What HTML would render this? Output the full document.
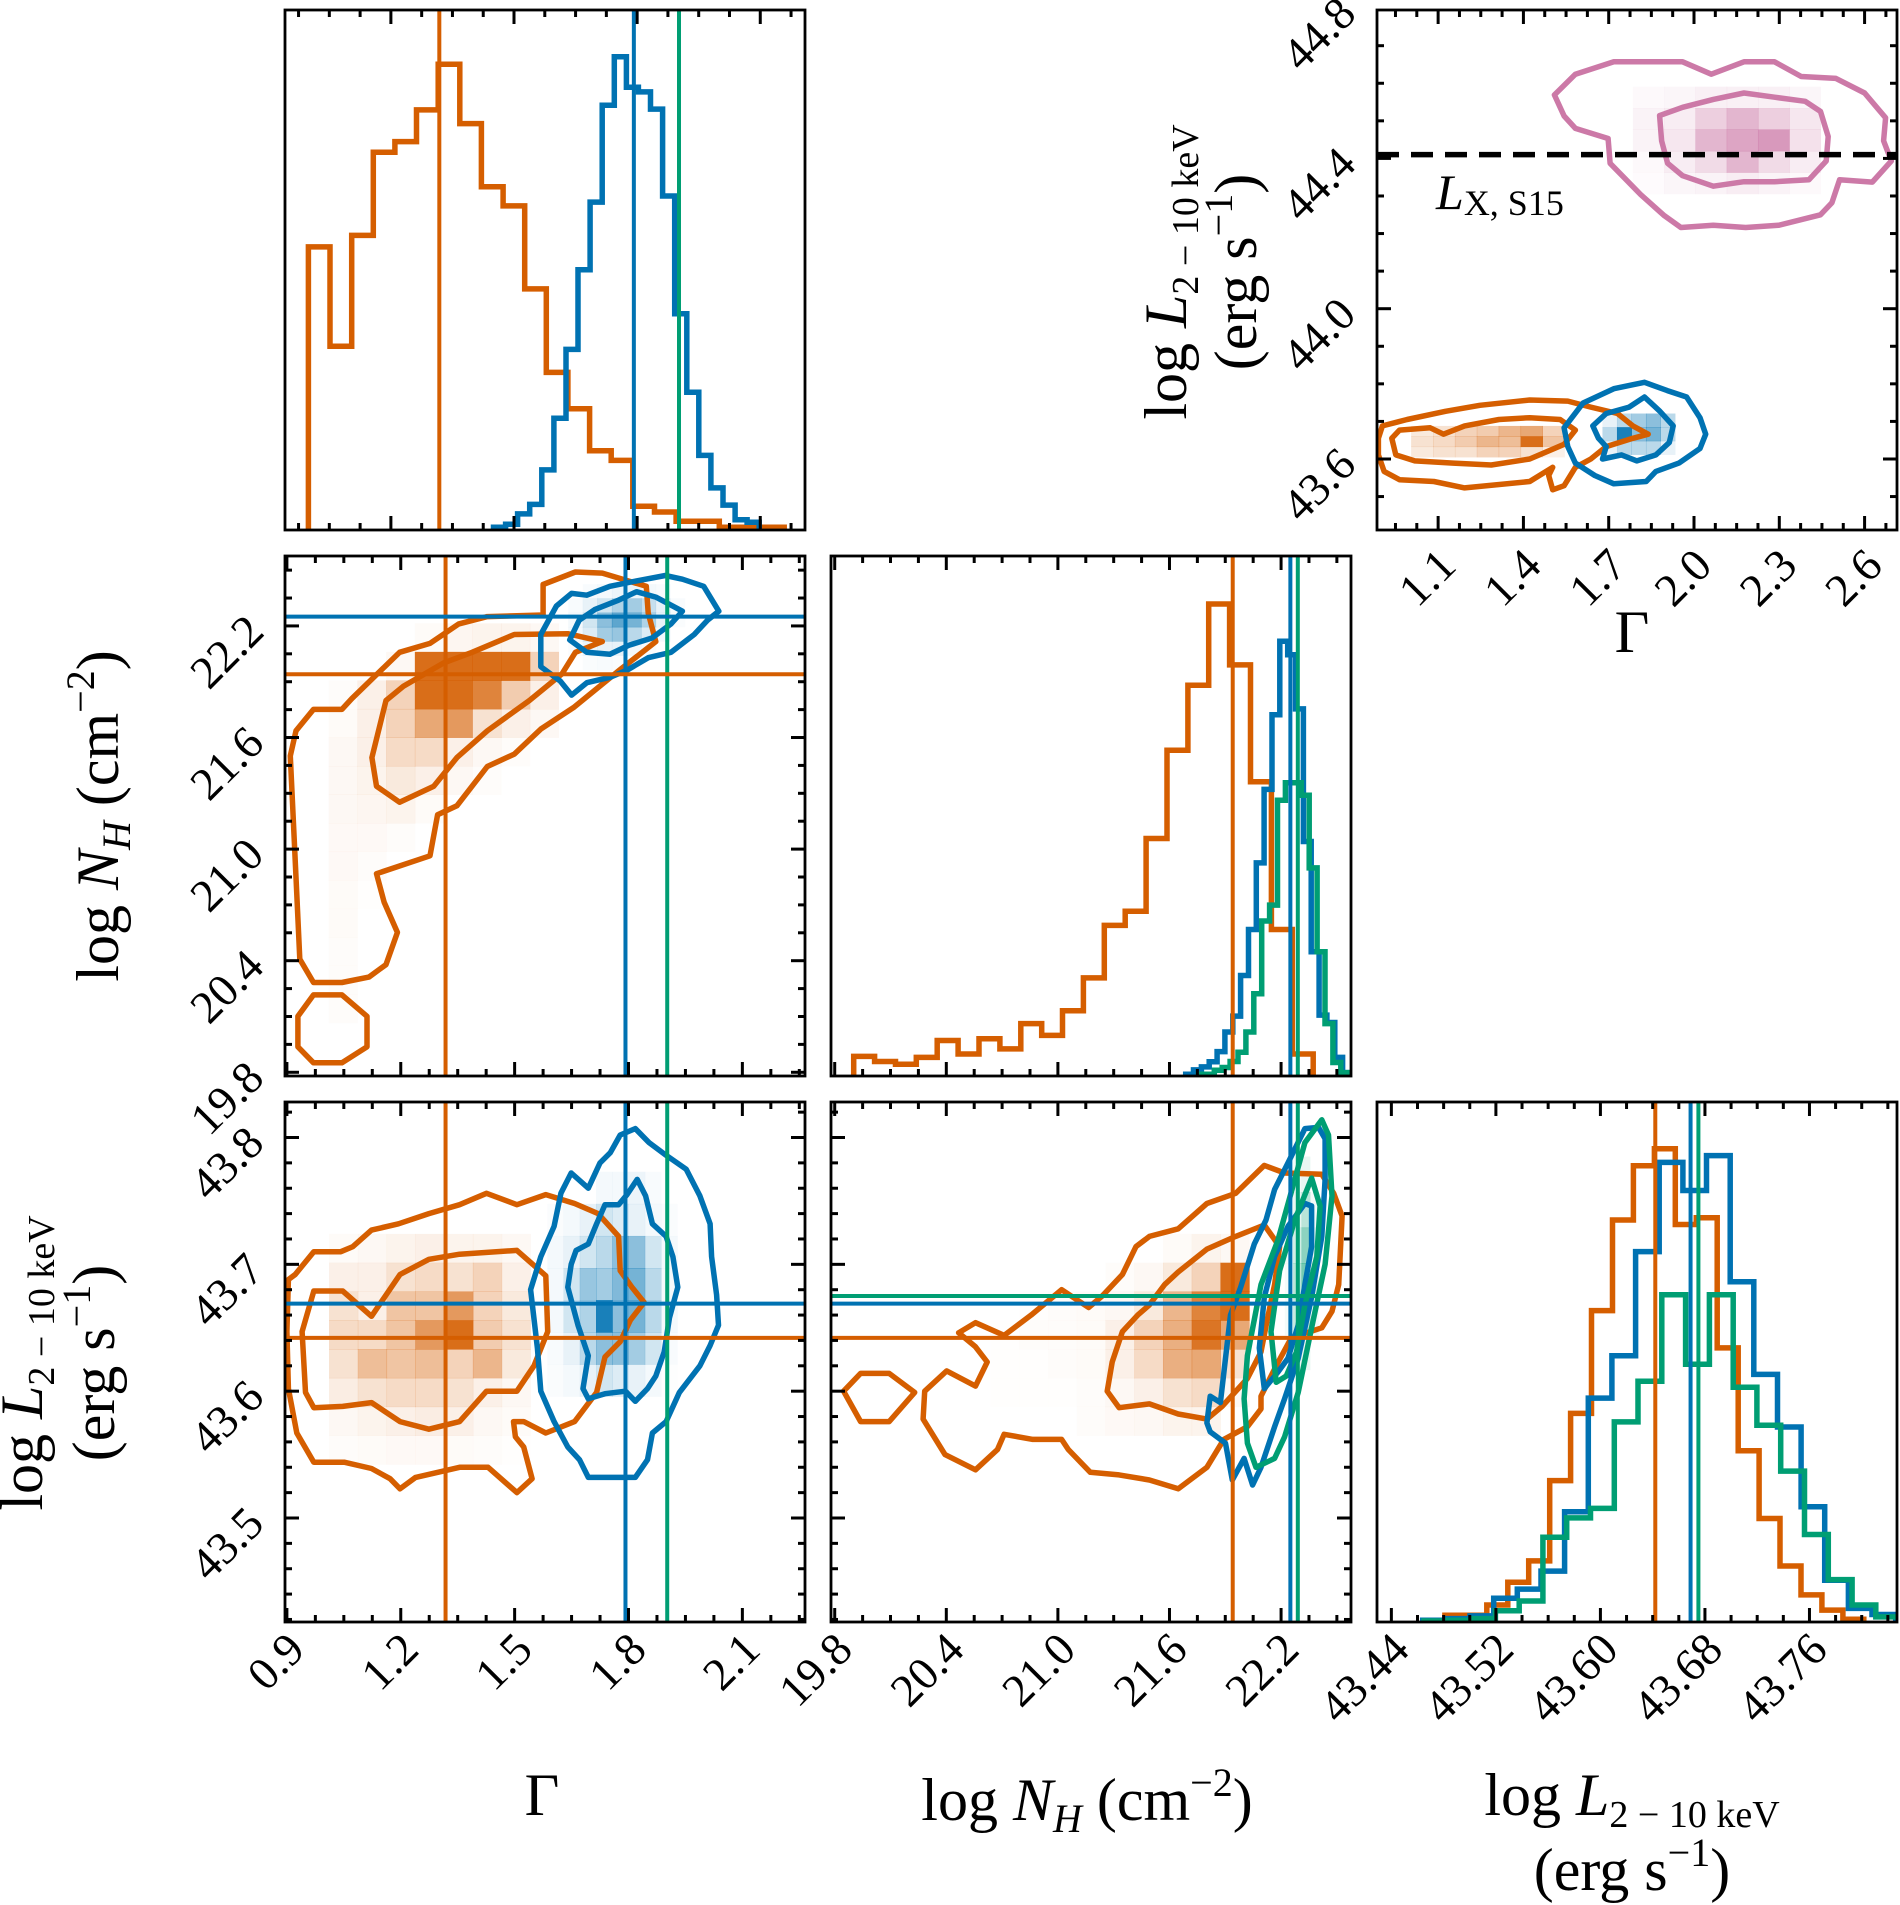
<!DOCTYPE html>
<html>
<head>
<meta charset="utf-8">
<style>
  html, body { margin:0; padding:0; background:#fff; }
  svg { display:block; font-family:"Liberation Serif", "DejaVu Serif", serif; }
  .tl { font-size:46px; fill:#000; }
  .title { font-size:60px; fill:#000; }
</style>
</head>
<body>
<svg id="fig" width="1900" height="1905" viewBox="0 0 1900 1905" xmlns="http://www.w3.org/2000/svg">
  <rect x="0" y="0" width="1900" height="1905" fill="#fff"/>
  <defs id="defs"></defs>
  <g id="marks"></g>
  <g id="axes"></g>

  <text class="title" transform="translate(118,816) rotate(-90)" text-anchor="middle">log <tspan font-style="italic">N</tspan><tspan font-style="italic" font-size="40" dy="12">H</tspan><tspan dy="-12"> (cm</tspan><tspan font-size="40" dy="-24">−2</tspan><tspan dy="24">)</tspan></text>

  <text class="title" transform="translate(42,1363) rotate(-90)" text-anchor="middle">log <tspan font-style="italic">L</tspan><tspan font-size="38" dy="12">2 − 10 keV</tspan></text>
  <text class="title" transform="translate(114,1363) rotate(-90)" text-anchor="middle">(erg s<tspan font-size="40" dy="-24">−1</tspan><tspan dy="24">)</tspan></text>

  <text class="title" transform="translate(1186,272) rotate(-90)" text-anchor="middle">log <tspan font-style="italic">L</tspan><tspan font-size="38" dy="12">2 − 10 keV</tspan></text>
  <text class="title" transform="translate(1256,272) rotate(-90)" text-anchor="middle">(erg s<tspan font-size="40" dy="-24">−1</tspan><tspan dy="24">)</tspan></text>

  <text class="title" x="542" y="1815" text-anchor="middle">Γ</text>
  <text class="title" x="1087" y="1820" text-anchor="middle">log <tspan font-style="italic">N</tspan><tspan font-style="italic" font-size="40" dy="12">H</tspan><tspan dy="-12"> (cm</tspan><tspan font-size="40" dy="-24">−2</tspan><tspan dy="24">)</tspan></text>
  <text class="title" x="1632" y="1815" text-anchor="middle">log <tspan font-style="italic">L</tspan><tspan font-size="38" dy="12">2 − 10 keV</tspan></text>
  <text class="title" x="1632" y="1890" text-anchor="middle">(erg s<tspan font-size="40" dy="-24">−1</tspan><tspan dy="24">)</tspan></text>
  <text class="title" x="1632" y="652" text-anchor="middle">Γ</text>

  <text x="1436" y="209" font-size="50"><tspan font-style="italic">L</tspan><tspan font-size="36" dy="6">X, S15</tspan></text>

<script>
const S = "http://www.w3.org/2000/svg";
const ORANGE = "#d55e00", BLUE = "#0072b2", GREEN = "#009e73", PINK = "#cc79a7";

const gammaTicks = [0.9, 1.2, 1.5, 1.8, 2.1];
const nhTicks = [19.8, 20.4, 21.0, 21.6, 22.2];
const lumTicksY = [43.5, 43.6, 43.7, 43.8];
const lumTicksX = [43.44, 43.52, 43.60, 43.68, 43.76];
const trGammaTicks = [1.1, 1.4, 1.7, 2.0, 2.3, 2.6];
const trLumTicks = [43.6, 44.0, 44.4, 44.8];

const gammaMedians = [1.318, 1.792, 1.902];
const nhMedians = [21.94, 22.25, 22.29];
const lumMedians = [43.642, 43.669, 43.675];
const lxS15 = [44.41];

const gammaHistOrange = [740,480,770,987,1015,1098,1217,1062,897,847,630,412,317,207,182,62,47,23,23,7,7,7];
const gammaHistOrangeBins = [0.999, 0.0527];
const gammaHistBlue = [7,15,42,67,157,292,472,680,857,1110,1237,1157,1145,1100,873,565,360,195,110,65,27,20];
const gammaHistBlueBins = [1.450, 0.02943];

const nhHistOrange = [58,43,35,55,105,65,110,80,155,120,193,290,445,487,702,963,1155,1395,1215,870,433,65];
const nhHistOrangeBins = [19.902, 0.1123];
const nhHistBlue = [5,18,27,42,72,130,177,297,433,630,847,1068,1285,1245,1085,693,367,180,158,55,10];
const nhHistBlueBins = [21.687, 0.0422];
const nhHistGreen = [5,5,17,25,43,70,130,243,458,505,815,867,867,830,615,367,155,40,10];
const nhHistGreenBins = [21.756, 0.0425];

const lumHistOrange = [20,20,50,117,180,417,615,918,1185,1345,1395,1172,1192,808,505,305,165,80,35,8];
const lumHistOrangeBins = [43.481, 0.01603];
const lumHistBlue = [5,10,18,70,97,150,325,660,785,1092,1355,1272,1375,1003,730,575,340,123,40,22];
const lumHistBlueBins = [43.464, 0.0181];
const lumHistGreen = [3,5,10,33,62,250,307,335,590,710,965,760,965,692,580,445,258,125,50,15];
const lumHistGreenBins = [43.465, 0.0182];

const heatGNOrange = [
 [0,0,0,0.03,0.06,0.08,0.08,0.05],
 [0,0,0.05,1.0,1.0,1.0,1.0,0.3],
 [0.02,0.1,0.3,1.0,1.0,0.85,0.35,0.1],
 [0.03,0.1,0.3,0.6,0.7,0.2,0.1,0.05],
 [0.05,0.1,0.25,0.25,0.1,0.05,0.02,0],
 [0.05,0.08,0.15,0.1,0.05,0.02,0,0],
 [0.05,0.06,0.08,0.03,0,0,0,0],
 [0.04,0.04,0.02,0,0,0,0,0],
 [0.04,0.02,0,0,0,0,0,0],
 [0.03,0.01,0,0,0,0,0,0],
 [0.03,0,0,0,0,0,0,0],
 [0.02,0,0,0,0,0,0,0],
 [0.02,0,0,0,0,0,0,0],
 [0.02,0,0,0,0,0,0,0]];
const heatGNOrangeGrid = [1.010, 0.0757, 22.214, 0.1534];
const heatGNBlue = [
 [0,0.03,0.05,0.08,0.08,0.05,0.03,0],
 [0.03,0.1,0.2,0.35,0.4,0.25,0.1,0.03],
 [0.05,0.2,0.5,0.7,0.6,0.35,0.1,0.02],
 [0.05,0.15,0.4,0.45,0.3,0.15,0.05,0],
 [0.02,0.08,0.1,0.1,0.05,0.02,0,0],
 [0,0.02,0.03,0.02,0,0,0,0]];
const heatGNBlueGrid = [1.641, 0.0384, 22.425, 0.0767];

const heatGLOrange = [
 [0.03,0.05,0.08,0.1,0.08,0.08,0.05],
 [0.1,0.1,0.2,0.25,0.2,0.3,0.1],
 [0.2,0.1,0.4,0.4,0.7,0.3,0.15],
 [0.25,0.25,0.4,0.7,1.0,0.35,0.2],
 [0.2,0.45,0.4,0.45,0.3,0.5,0.15],
 [0.12,0.2,0.25,0.25,0.2,0.1,0.05],
 [0.05,0.08,0.1,0.12,0.1,0.05,0.03],
 [0.02,0.03,0.04,0.04,0.03,0.02,0.01]];
const heatGLOrangeGrid = [1.011, 0.0758, 43.724, 0.0227];
const heatGLBlue = [
 [0,0,0,0.05,0.05,0.08,0.03,0],
 [0.02,0.05,0.1,0.2,0.15,0.1,0.05,0.02],
 [0.05,0.1,0.2,0.3,0.5,0.5,0.2,0.05],
 [0.05,0.2,0.45,0.4,0.55,0.6,0.3,0.05],
 [0.05,0.2,0.35,1.0,0.5,0.6,0.3,0.05],
 [0.03,0.1,0.3,0.5,0.5,0.4,0.2,0.03],
 [0.02,0.05,0.1,0.2,0.15,0.1,0.05,0.01]];
const heatGLBlueGrid = [1.586, 0.0428, 43.773, 0.0253];

const heatNLOrange = [
 [0,0,0,0,0,0,0.03,0.08,0.05],
 [0,0,0,0,0.02,0.05,0.15,0.3,1.0],
 [0,0.01,0.02,0.03,0.05,0.15,0.5,0.85,1.0],
 [0.01,0.02,0.02,0.03,0.1,0.3,0.55,0.95,0.6],
 [0.01,0.01,0.02,0.03,0.1,0.25,0.55,0.6,0.2],
 [0.01,0.01,0.01,0.02,0.05,0.1,0.2,0.25,0.05],
 [0,0,0,0.02,0.04,0.05,0.08,0.08,0]];
const heatNLOrangeGrid = [20.638, 0.1545, 43.724, 0.0227];
const heatNLGreen = [
 [0,0.05,0.1,0],
 [0,0.1,0.3,0.05],
 [0.05,0.2,0.5,0.1],
 [0.05,0.3,0.6,0.1],
 [0.05,0.25,0.3,0.05],
 [0.02,0.1,0.1,0]];
const heatNLGreenGrid = [22.22, 0.045, 43.785, 0.028];

const heatTRPink = [
 [0.05,0.08,0.12,0.12,0.12,0.08],
 [0.1,0.15,0.4,0.6,0.4,0.2],
 [0.1,0.2,0.6,0.75,0.85,0.25],
 [0.05,0.15,0.3,0.6,0.3,0.15],
 [0.03,0.08,0.1,0.15,0.1,0.05]];
const heatTRPinkGrid = [1.785, 0.110, 44.591, 0.057];
const heatTROrange = [
 [0.15,0.2,0.3,0.35,0.5,0.6,0.3],
 [0.2,0.25,0.35,0.5,0.45,1.0,0.4],
 [0.15,0.2,0.2,0.3,0.3,0.2,0.1]];
const heatTROrangeGrid = [1.005, 0.077, 43.688, 0.0275];
const heatTRBlue = [
 [0.1,0.3,0.4,0.5,0.3],
 [0.3,1.0,0.5,0.6,0.3],
 [0.1,0.3,0.3,0.3,0.1]];
const heatTRBlueGrid = [1.678, 0.051, 43.721, 0.0363];

const cGNOrangeOuter = [[0.970,20.283],[0.934,20.408],[0.924,20.849],[0.909,21.501],[0.924,21.636],[0.970,21.751],[1.045,21.751],[1.071,21.809],[1.197,22.058],[1.277,22.106],[1.353,22.211],[1.428,22.250],[1.575,22.259],[1.575,22.423],[1.660,22.490],[1.731,22.484],[1.847,22.413],[1.852,22.269],[1.872,22.116],[1.776,21.962],[1.655,21.761],[1.569,21.645],[1.499,21.511],[1.428,21.444],[1.348,21.233],[1.297,21.185],[1.277,20.964],[1.136,20.868],[1.156,20.715],[1.191,20.552],[1.161,20.379],[1.116,20.312],[1.045,20.283]];
const cGNOrangeIsland = [[0.970,20.216],[1.045,20.216],[1.111,20.101],[1.111,19.937],[1.045,19.851],[0.970,19.851],[0.929,19.937],[0.929,20.101]];
const cGNOrangeInner = [[1.197,21.252],[1.136,21.338],[1.124,21.492],[1.161,21.799],[1.207,21.876],[1.312,22.000],[1.388,22.058],[1.499,22.154],[1.640,22.158],[1.731,22.116],[1.660,22.058],[1.625,21.943],[1.539,21.799],[1.428,21.636],[1.348,21.492],[1.287,21.338]];
const cGNBlueOuter = [[1.569,22.154],[1.610,22.307],[1.650,22.375],[1.690,22.365],[1.751,22.413],[1.821,22.442],[1.897,22.471],[1.942,22.451],[1.998,22.413],[2.038,22.279],[2.008,22.231],[1.973,22.154],[1.912,22.058],[1.852,22.029],[1.796,21.962],[1.751,21.924],[1.690,21.895],[1.650,21.828],[1.620,21.904],[1.569,21.981]];
const cGNBlueInner = [[1.645,22.125],[1.670,22.231],[1.711,22.288],[1.771,22.336],[1.821,22.384],[1.872,22.355],[1.942,22.279],[1.912,22.211],[1.862,22.135],[1.801,22.096],[1.751,22.048],[1.690,22.058]];

const cGLOrangeOuter = [[0.904,43.688],[0.922,43.692],[0.971,43.710],[1.042,43.710],[1.074,43.714],[1.123,43.727],[1.194,43.732],[1.274,43.740],[1.355,43.747],[1.426,43.756],[1.506,43.747],[1.582,43.755],[1.658,43.748],[1.720,43.740],[1.774,43.722],[1.778,43.695],[1.809,43.682],[1.841,43.670],[1.805,43.656],[1.778,43.639],[1.738,43.627],[1.716,43.599],[1.658,43.576],[1.582,43.567],[1.524,43.576],[1.497,43.576],[1.502,43.564],[1.524,43.556],[1.546,43.531],[1.506,43.520],[1.430,43.540],[1.355,43.540],[1.239,43.532],[1.198,43.523],[1.172,43.531],[1.123,43.539],[1.051,43.544],[0.971,43.544],[0.926,43.567],[0.904,43.602],[0.900,43.647]];
const cGLOrangeInner = [[0.971,43.679],[1.047,43.679],[1.123,43.659],[1.198,43.692],[1.274,43.704],[1.355,43.708],[1.506,43.711],[1.582,43.691],[1.587,43.647],[1.551,43.620],[1.506,43.600],[1.426,43.600],[1.355,43.576],[1.274,43.570],[1.198,43.576],[1.123,43.591],[1.047,43.588],[0.971,43.587],[0.949,43.599],[0.940,43.647]];
const cGLBlueOuter = [[1.542,43.680],[1.569,43.706],[1.604,43.730],[1.622,43.756],[1.649,43.772],[1.694,43.760],[1.725,43.780],[1.752,43.788],[1.778,43.802],[1.818,43.807],[1.854,43.796],[1.899,43.786],[1.952,43.775],[1.988,43.754],[2.015,43.732],[2.019,43.706],[2.032,43.676],[2.037,43.652],[2.015,43.636],[1.988,43.620],[1.934,43.599],[1.899,43.576],[1.863,43.567],[1.850,43.546],[1.818,43.532],[1.694,43.532],[1.671,43.546],[1.640,43.556],[1.604,43.576],[1.569,43.600],[1.560,43.634]];
const cGLBlueInner = [[1.640,43.682],[1.649,43.700],[1.662,43.711],[1.694,43.716],[1.716,43.732],[1.738,43.747],[1.774,43.747],[1.796,43.755],[1.823,43.767],[1.845,43.754],[1.863,43.732],[1.899,43.722],[1.917,43.706],[1.930,43.682],[1.908,43.658],[1.894,43.631],[1.872,43.612],[1.850,43.602],[1.818,43.592],[1.792,43.600],[1.738,43.598],[1.694,43.594],[1.680,43.602],[1.694,43.628],[1.667,43.652]];

const cNLOrangeOuter = [[20.466,43.646],[20.557,43.654],[20.711,43.644],[20.856,43.660],[21.020,43.680],[21.165,43.666],[21.238,43.675],[21.347,43.692],[21.420,43.714],[21.492,43.722],[21.647,43.728],[21.801,43.748],[21.956,43.756],[22.110,43.778],[22.219,43.772],[22.419,43.771],[22.483,43.756],[22.528,43.738],[22.510,43.684],[22.474,43.663],[22.419,43.650],[22.255,43.642],[22.174,43.620],[22.092,43.596],[22.092,43.586],[22.019,43.572],[21.892,43.562],[21.801,43.540],[21.647,43.523],[21.492,43.530],[21.329,43.534],[21.174,43.536],[21.056,43.554],[21.020,43.562],[20.865,43.562],[20.711,43.566],[20.675,43.554],[20.557,43.538],[20.393,43.550],[20.275,43.578],[20.284,43.600],[20.402,43.616],[20.557,43.604],[20.620,43.623],[20.557,43.635]];
const cNLOrangeIsland = [[19.848,43.600],[19.939,43.614],[20.093,43.614],[20.230,43.599],[20.093,43.576],[19.939,43.576]];
const cNLOrangeInner = [[21.265,43.600],[21.292,43.623],[21.347,43.647],[21.429,43.660],[21.492,43.668],[21.574,43.684],[21.647,43.694],[21.801,43.712],[21.956,43.722],[22.110,43.731],[22.192,43.714],[22.165,43.684],[22.128,43.658],[22.092,43.631],[22.019,43.610],[21.883,43.588],[21.801,43.578],[21.647,43.582],[21.492,43.590],[21.329,43.587]];
const cNLBlueOuter = [[21.801,43.575],[21.819,43.596],[21.874,43.591],[21.928,43.660],[21.983,43.682],[22.056,43.716],[22.119,43.735],[22.165,43.759],[22.237,43.780],[22.328,43.807],[22.401,43.808],[22.437,43.799],[22.437,43.767],[22.419,43.722],[22.364,43.674],[22.292,43.626],[22.219,43.594],[22.165,43.572],[22.092,43.540],[22.047,43.526],[22.001,43.547],[21.938,43.530],[21.901,43.559],[21.819,43.568]];
const cNLBlueInner = [[22.110,43.602],[22.083,43.634],[22.110,43.674],[22.165,43.706],[22.237,43.730],[22.328,43.748],[22.364,43.746],[22.364,43.714],[22.328,43.684],[22.292,43.652],[22.237,43.626],[22.183,43.615]];
const cNLGreenOuter = [[22.065,43.540],[22.019,43.559],[22.001,43.594],[22.019,43.628],[22.092,43.684],[22.183,43.719],[22.274,43.767],[22.328,43.796],[22.419,43.814],[22.455,43.802],[22.474,43.754],[22.437,43.700],[22.364,43.650],[22.292,43.599],[22.219,43.564],[22.165,43.547]];
const cNLGreenInner = [[22.174,43.607],[22.146,43.647],[22.192,43.695],[22.274,43.735],[22.364,43.768],[22.410,43.746],[22.392,43.706],[22.328,43.668],[22.283,43.631],[22.228,43.612]];

const cTRPinkOuter = [[1.509,44.569],[1.583,44.624],[1.718,44.657],[1.960,44.657],[2.061,44.624],[2.176,44.657],[2.283,44.657],[2.377,44.618],[2.499,44.613],[2.600,44.574],[2.674,44.508],[2.667,44.447],[2.694,44.393],[2.627,44.337],[2.512,44.343],[2.485,44.282],[2.445,44.250],[2.297,44.222],[2.182,44.216],[2.068,44.222],[1.954,44.216],[1.893,44.249],[1.812,44.304],[1.705,44.387],[1.698,44.453],[1.583,44.480],[1.543,44.513]];
const cTRPinkInner = [[1.879,44.514],[1.960,44.536],[2.068,44.557],[2.176,44.574],[2.283,44.563],[2.391,44.552],[2.445,44.525],[2.472,44.458],[2.465,44.393],[2.404,44.343],[2.283,44.338],[2.176,44.338],[2.068,44.326],[1.960,44.354],[1.907,44.387],[1.886,44.447]];
const cTROrangeOuter = [[0.890,43.655],[0.904,43.688],[0.991,43.705],[1.126,43.727],[1.247,43.743],[1.422,43.757],[1.556,43.754],[1.637,43.738],[1.731,43.721],[1.785,43.688],[1.839,43.666],[1.785,43.655],[1.691,43.633],[1.637,43.600],[1.583,43.578],[1.543,43.529],[1.503,43.518],[1.489,43.556],[1.503,43.578],[1.422,43.540],[1.193,43.523],[1.085,43.540],[0.964,43.545],[0.910,43.567],[0.890,43.611]];
const cTROrangeInner = [[0.937,43.655],[0.964,43.677],[1.072,43.683],[1.119,43.666],[1.193,43.688],[1.314,43.705],[1.422,43.710],[1.529,43.705],[1.583,43.677],[1.543,43.639],[1.422,43.600],[1.287,43.584],[1.153,43.589],[1.018,43.595],[0.951,43.611]];
const cTRBlueOuter = [[1.543,43.683],[1.610,43.749],[1.718,43.787],[1.826,43.804],[1.906,43.782],[1.974,43.765],[2.021,43.710],[2.041,43.666],[2.021,43.628],[1.947,43.589],[1.866,43.567],[1.832,43.540],[1.718,43.534],[1.651,43.556],[1.583,43.589],[1.556,43.633]];
const cTRBlueInner = [[1.644,43.688],[1.691,43.721],[1.772,43.738],[1.826,43.765],[1.880,43.727],[1.927,43.688],[1.913,43.644],[1.866,43.611],[1.799,43.595],[1.745,43.611],[1.678,43.600],[1.691,43.633],[1.664,43.655]];

const G_RANGE = [0.895, 2.265], NH_RANGE = [19.78, 22.576], L_RANGE_Y = [43.418, 43.828], L_RANGE_X = [43.429, 43.827];
const panels = {
  tl:   {id:'tl',   x0:285,  y0:10,   w:520, h:520, xr:[0.942, 2.209], yr:[0, 1359]},
  r2c1: {id:'r2c1', x0:285,  y0:556,  w:520, h:520, xr:G_RANGE, yr:NH_RANGE},
  r2c2: {id:'r2c2', x0:831,  y0:556,  w:520, h:520, xr:NH_RANGE, yr:[0, 1537]},
  r3c1: {id:'r3c1', x0:285,  y0:1102, w:520, h:520, xr:G_RANGE, yr:L_RANGE_Y},
  r3c2: {id:'r3c2', x0:831,  y0:1102, w:520, h:520, xr:NH_RANGE, yr:L_RANGE_Y},
  r3c3: {id:'r3c3', x0:1377, y0:1102, w:520, h:520, xr:L_RANGE_X, yr:[0, 1533]},
  tr:   {id:'tr',   x0:1377, y0:10,   w:520, h:520, xr:[0.885, 2.714], yr:[43.411, 44.795]}
};

function sx(p, v) { return p.x0 + (v - p.xr[0]) / (p.xr[1] - p.xr[0]) * p.w; }
function sy(p, v) { return p.y0 + p.h - (v - p.yr[0]) / (p.yr[1] - p.yr[0]) * p.h; }

const marks = document.getElementById('marks');
const axesG = document.getElementById('axes');
const defs = document.getElementById('defs');
const LW = 5.5, MW = 4;

function mk(tag, attrs, parent) {
  const e = document.createElementNS(S, tag);
  for (const k in attrs) e.setAttribute(k, attrs[k]);
  parent.appendChild(e);
  return e;
}

function panelGroup(p) {
  const cp = mk('clipPath', {id: 'clip-' + p.id}, defs);
  mk('rect', {x: p.x0, y: p.y0, width: p.w, height: p.h}, cp);
  const g = mk('g', {'clip-path': 'url(#clip-' + p.id + ')'}, marks);
  
  
  return g;
}

function drawHeat(p, g, cells, grid, color, name) {
  for (let i = 0; i < cells.length; i++) {
    for (let j = 0; j < cells[i].length; j++) {
      const v = cells[i][j];
      if (v <= 0) continue;
      const xa = sx(p, grid[0] + j * grid[1]), xb = sx(p, grid[0] + (j + 1) * grid[1]);
      const ya = sy(p, grid[2] - i * grid[3]), yb = sy(p, grid[2] - (i + 1) * grid[3]);
      const r = mk('rect', {x: xa, y: ya, width: xb - xa + 0.5, height: yb - ya + 0.5, fill: color, 'fill-opacity': Math.min(1, v * 0.9)}, g);
      
      
    }
  }
}

function drawContour(p, g, pts, color, name) {
  const d = pts.map((q, i) => (i ? 'L' : 'M') + sx(p, q[0]).toFixed(1) + ',' + sy(p, q[1]).toFixed(1)).join(' ') + ' Z';
  const e = mk('path', {d: d, fill: 'none', stroke: color, 'stroke-width': LW, 'stroke-linejoin': 'round'}, g);
  
  
}

function drawHist(p, g, counts, bins, color, name) {
  const base = sy(p, 0);
  let d = 'M' + sx(p, bins[0]).toFixed(1) + ',' + base.toFixed(1);
  for (let i = 0; i < counts.length; i++) {
    const xa = sx(p, bins[0] + i * bins[1]), xb = sx(p, bins[0] + (i + 1) * bins[1]);
    const y = sy(p, counts[i]);
    d += ' L' + xa.toFixed(1) + ',' + y.toFixed(1) + ' L' + xb.toFixed(1) + ',' + y.toFixed(1);
  }
  d += ' L' + sx(p, bins[0] + counts.length * bins[1]).toFixed(1) + ',' + base.toFixed(1);
  const e = mk('path', {d: d, fill: 'none', stroke: color, 'stroke-width': LW, 'stroke-linejoin': 'miter'}, g);
  
  
}

function vline(p, g, v, color, name) {
  const x = sx(p, v);
  const e = mk('line', {x1: x, x2: x, y1: p.y0, y2: p.y0 + p.h, stroke: color, 'stroke-width': MW}, g);
  
  
}
function hline(p, g, v, color, name, extra) {
  const y = sy(p, v);
  const e = mk('line', Object.assign({x1: p.x0, x2: p.x0 + p.w, y1: y, y2: y, stroke: color, 'stroke-width': MW}, extra || {}), g);
  
  
}

function frameAndTicks(p, xt, yt) {
  const f = mk('rect', {x: p.x0, y: p.y0, width: p.w, height: p.h, fill: 'none', stroke: '#000', 'stroke-width': 2.8}, axesG);
  
  
  function isMajor(v, t) { const r = (v - t[0]) / t[1]; return Math.abs(r - Math.round(r)) < 1e-6; }
  if (xt) {
    const k0 = Math.ceil((p.xr[0] - xt[0]) / xt[2] - 1e-9), k1 = Math.floor((p.xr[1] - xt[0]) / xt[2] + 1e-9);
    for (let k = k0; k <= k1; k++) {
      const v = xt[0] + k * xt[2], x = sx(p, v), L = isMajor(v, xt) ? 14 : 7;
      const a = mk('line', {x1: x, x2: x, y1: p.y0 + p.h, y2: p.y0 + p.h - L, stroke: '#000', 'stroke-width': 3}, axesG);
      
      
      const b = mk('line', {x1: x, x2: x, y1: p.y0, y2: p.y0 + L, stroke: '#000', 'stroke-width': 3}, axesG);
      
      
    }
  }
  if (yt) {
    const k0 = Math.ceil((p.yr[0] - yt[0]) / yt[2] - 1e-9), k1 = Math.floor((p.yr[1] - yt[0]) / yt[2] + 1e-9);
    for (let k = k0; k <= k1; k++) {
      const v = yt[0] + k * yt[2], y = sy(p, v), L = isMajor(v, yt) ? 14 : 7;
      const a = mk('line', {x1: p.x0, x2: p.x0 + L, y1: y, y2: y, stroke: '#000', 'stroke-width': 3}, axesG);
      
      
      const b = mk('line', {x1: p.x0 + p.w, x2: p.x0 + p.w - L, y1: y, y2: y, stroke: '#000', 'stroke-width': 3}, axesG);
      
      
    }
  }
}

function xLabels(p, vals, digits, dy) {
  vals.forEach(v => {
    const x = sx(p, v) + 20, y = p.y0 + p.h + dy;
    const t = mk('text', {class: 'tl', transform: 'translate(' + x.toFixed(1) + ',' + y + ') rotate(-45)', 'text-anchor': 'end'}, axesG);
    t.textContent = v.toFixed(digits);
    
    
  });
}
function yLabels(p, vals, digits) {
  vals.forEach(v => {
    const x = p.x0 - 19, y = sy(p, v) + 8;
    const t = mk('text', {class: 'tl', transform: 'translate(' + x + ',' + y.toFixed(1) + ') rotate(-45)', 'text-anchor': 'end'}, axesG);
    t.textContent = v.toFixed(digits);
    
    
  });
}

(function () {
  const p = panels.tl, g = panelGroup(p);
  drawHist(p, g, gammaHistOrange, gammaHistOrangeBins, ORANGE, 'gamma-hist-orange');
  drawHist(p, g, gammaHistBlue, gammaHistBlueBins, BLUE, 'gamma-hist-blue');
  vline(p, g, gammaMedians[0], ORANGE, 'gamma-median-orange');
  vline(p, g, gammaMedians[1], BLUE, 'gamma-median-blue');
  vline(p, g, gammaMedians[2], GREEN, 'gamma-median-green');
  frameAndTicks(p, [1.2, 0.3, 0.075], null);
})();

(function () {
  const p = panels.r2c1, g = panelGroup(p);
  drawHeat(p, g, heatGNOrange, heatGNOrangeGrid, ORANGE, 'gamma-nh-heat-orange');
  drawHeat(p, g, heatGNBlue, heatGNBlueGrid, BLUE, 'gamma-nh-heat-blue');
  drawContour(p, g, cGNOrangeOuter, ORANGE, 'gamma-nh-contour-orange-outer');
  drawContour(p, g, cGNOrangeIsland, ORANGE, 'gamma-nh-contour-orange-island');
  drawContour(p, g, cGNOrangeInner, ORANGE, 'gamma-nh-contour-orange-inner');
  drawContour(p, g, cGNBlueOuter, BLUE, 'gamma-nh-contour-blue-outer');
  drawContour(p, g, cGNBlueInner, BLUE, 'gamma-nh-contour-blue-inner');
  vline(p, g, gammaMedians[0], ORANGE, 'gamma-median-orange');
  vline(p, g, gammaMedians[1], BLUE, 'gamma-median-blue');
  vline(p, g, gammaMedians[2], GREEN, 'gamma-median-green');
  hline(p, g, nhMedians[0], ORANGE, 'nh-median-orange');
  hline(p, g, nhMedians[1], BLUE, 'nh-median-blue');
  frameAndTicks(p, [0.9, 0.3, 0.075], [19.8, 0.6, 0.15]);
  yLabels(p, nhTicks, 1);
})();

(function () {
  const p = panels.r2c2, g = panelGroup(p);
  drawHist(p, g, nhHistOrange, nhHistOrangeBins, ORANGE, 'nh-hist-orange');
  drawHist(p, g, nhHistBlue, nhHistBlueBins, BLUE, 'nh-hist-blue');
  drawHist(p, g, nhHistGreen, nhHistGreenBins, GREEN, 'nh-hist-green');
  vline(p, g, nhMedians[0], ORANGE, 'nh-median-orange');
  vline(p, g, nhMedians[1], BLUE, 'nh-median-blue');
  vline(p, g, nhMedians[2], GREEN, 'nh-median-green');
  frameAndTicks(p, [19.8, 0.6, 0.15], null);
})();

(function () {
  const p = panels.r3c1, g = panelGroup(p);
  drawHeat(p, g, heatGLOrange, heatGLOrangeGrid, ORANGE, 'gamma-lum-heat-orange');
  drawHeat(p, g, heatGLBlue, heatGLBlueGrid, BLUE, 'gamma-lum-heat-blue');
  drawContour(p, g, cGLOrangeOuter, ORANGE, 'gamma-lum-contour-orange-outer');
  drawContour(p, g, cGLOrangeInner, ORANGE, 'gamma-lum-contour-orange-inner');
  drawContour(p, g, cGLBlueOuter, BLUE, 'gamma-lum-contour-blue-outer');
  drawContour(p, g, cGLBlueInner, BLUE, 'gamma-lum-contour-blue-inner');
  vline(p, g, gammaMedians[0], ORANGE, 'gamma-median-orange');
  vline(p, g, gammaMedians[1], BLUE, 'gamma-median-blue');
  vline(p, g, gammaMedians[2], GREEN, 'gamma-median-green');
  hline(p, g, lumMedians[0], ORANGE, 'lum-median-orange');
  hline(p, g, lumMedians[1], BLUE, 'lum-median-blue');
  frameAndTicks(p, [0.9, 0.3, 0.075], [43.5, 0.1, 0.02]);
  xLabels(p, gammaTicks, 1, 30);
  yLabels(p, lumTicksY, 1);
})();

(function () {
  const p = panels.r3c2, g = panelGroup(p);
  drawHeat(p, g, heatNLOrange, heatNLOrangeGrid, ORANGE, 'nh-lum-heat-orange');
  drawHeat(p, g, heatNLGreen, heatNLGreenGrid, GREEN, 'nh-lum-heat-green');
  drawContour(p, g, cNLOrangeOuter, ORANGE, 'nh-lum-contour-orange-outer');
  drawContour(p, g, cNLOrangeIsland, ORANGE, 'nh-lum-contour-orange-island');
  drawContour(p, g, cNLOrangeInner, ORANGE, 'nh-lum-contour-orange-inner');
  drawContour(p, g, cNLBlueOuter, BLUE, 'nh-lum-contour-blue-outer');
  drawContour(p, g, cNLBlueInner, BLUE, 'nh-lum-contour-blue-inner');
  drawContour(p, g, cNLGreenOuter, GREEN, 'nh-lum-contour-green-outer');
  drawContour(p, g, cNLGreenInner, GREEN, 'nh-lum-contour-green-inner');
  vline(p, g, nhMedians[0], ORANGE, 'nh-median-orange');
  vline(p, g, nhMedians[1], BLUE, 'nh-median-blue');
  vline(p, g, nhMedians[2], GREEN, 'nh-median-green');
  hline(p, g, lumMedians[0], ORANGE, 'lum-median-orange');
  hline(p, g, lumMedians[1], BLUE, 'lum-median-blue');
  hline(p, g, lumMedians[2], GREEN, 'lum-median-green');
  frameAndTicks(p, [19.8, 0.6, 0.15], [43.5, 0.1, 0.02]);
  xLabels(p, nhTicks, 1, 30);
})();

(function () {
  const p = panels.r3c3, g = panelGroup(p);
  drawHist(p, g, lumHistOrange, lumHistOrangeBins, ORANGE, 'lum-hist-orange');
  drawHist(p, g, lumHistBlue, lumHistBlueBins, BLUE, 'lum-hist-blue');
  drawHist(p, g, lumHistGreen, lumHistGreenBins, GREEN, 'lum-hist-green');
  vline(p, g, lumMedians[0], ORANGE, 'lum-median-orange');
  vline(p, g, lumMedians[1], BLUE, 'lum-median-blue');
  vline(p, g, lumMedians[2], GREEN, 'lum-median-green');
  frameAndTicks(p, [43.44, 0.08, 0.02], null);
  xLabels(p, lumTicksX, 2, 30);
})();

(function () {
  const p = panels.tr, g = panelGroup(p);
  drawHeat(p, g, heatTRPink, heatTRPinkGrid, PINK, 'tr-heat-pink');
  drawHeat(p, g, heatTROrange, heatTROrangeGrid, ORANGE, 'tr-heat-orange');
  drawHeat(p, g, heatTRBlue, heatTRBlueGrid, BLUE, 'tr-heat-blue');
  drawContour(p, g, cTRPinkOuter, PINK, 'tr-contour-pink-outer');
  drawContour(p, g, cTRPinkInner, PINK, 'tr-contour-pink-inner');
  drawContour(p, g, cTROrangeOuter, ORANGE, 'tr-contour-orange-outer');
  drawContour(p, g, cTROrangeInner, ORANGE, 'tr-contour-orange-inner');
  drawContour(p, g, cTRBlueOuter, BLUE, 'tr-contour-blue-outer');
  drawContour(p, g, cTRBlueInner, BLUE, 'tr-contour-blue-inner');
  hline(p, g, lxS15[0], '#000', 'lx-s15-dashed-line', {'stroke-width': 5.5, 'stroke-dasharray': '22,12'});
  frameAndTicks(p, [1.1, 0.3, 0.075], [43.6, 0.4, 0.1]);
  xLabels(p, trGammaTicks, 1, 38);
  yLabels(p, trLumTicks, 1);
})();
</script>
</svg>
</body>
</html>
